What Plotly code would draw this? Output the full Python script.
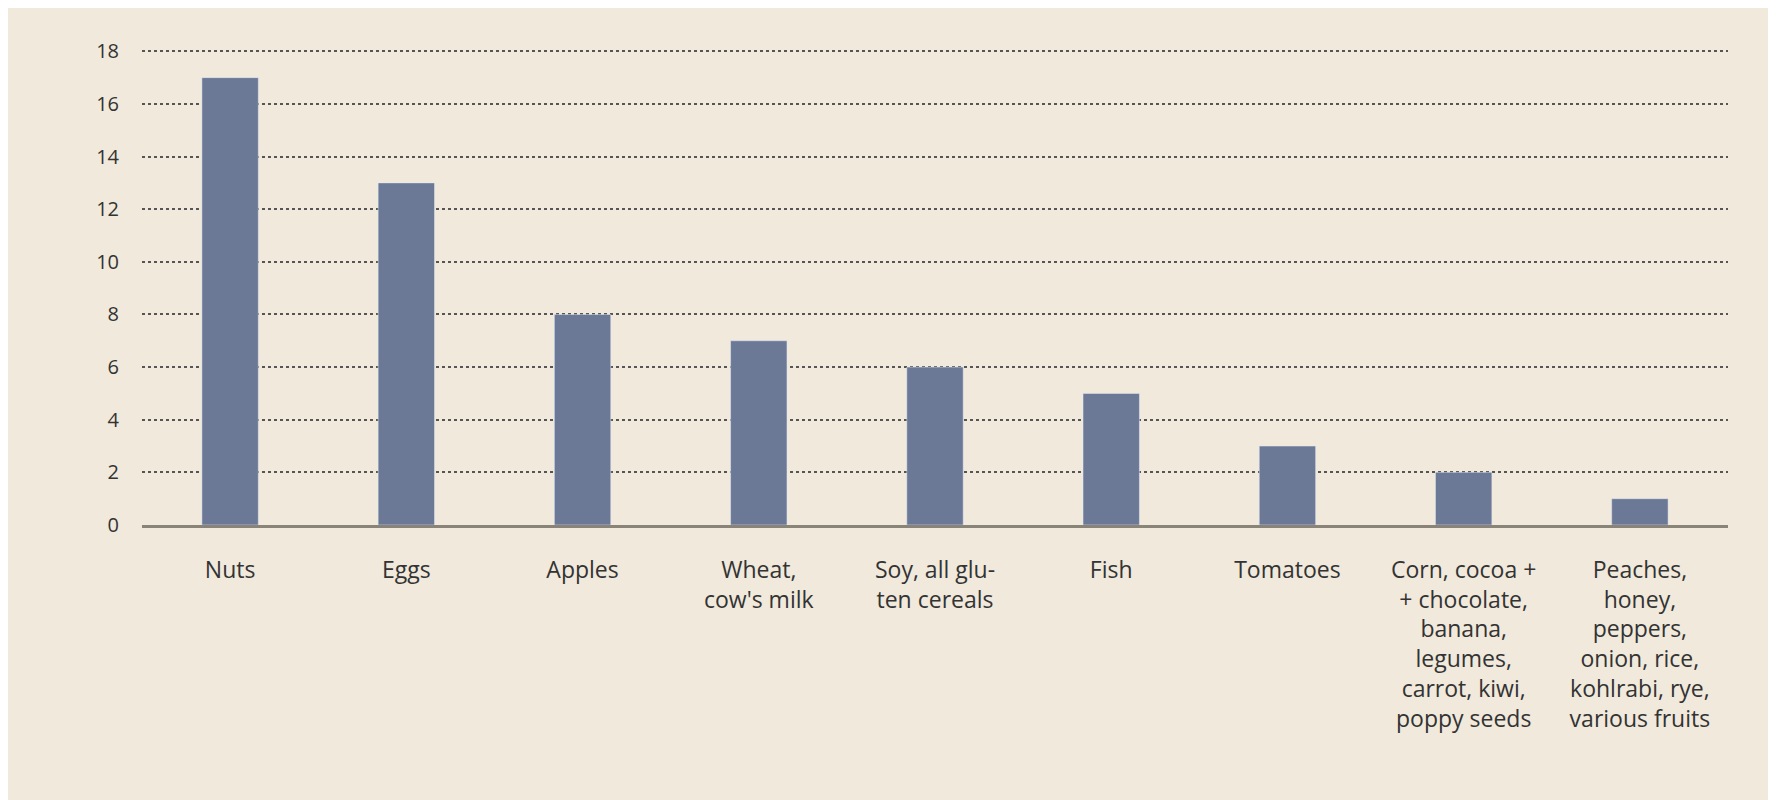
import plotly.graph_objects as go

categories = ["Nuts", "Eggs", "Apples", "Wheat,<br>cow's milk", "Soy, all glu-<br>ten cereals",
              "Fish", "Tomatoes",
              "Corn, cocoa +<br>+ chocolate,<br>banana,<br>legumes,<br>carrot, kiwi,<br>poppy seeds",
              "Peaches,<br>honey,<br>peppers,<br>onion, rice,<br>kohlrabi, rye,<br>various fruits"]
values = [17, 13, 8, 7, 6, 5, 3, 2, 1]
yticks = [0, 2, 4, 6, 8, 10, 12, 14, 16, 18]

fig = go.Figure(go.Bar(x=categories, y=values, marker_color="#6b7896", width=0.32))
fig.update_layout(
    width=1776, height=800, paper_bgcolor="#f0e9dc", plot_bgcolor="#f0e9dc",
    margin=dict(l=134, r=56, t=42, b=283), showlegend=False,
    font=dict(family="Open Sans", color="#333333", size=22),
)
fig.update_yaxes(range=[0, 18.05], tickvals=yticks, showgrid=True, gridcolor="#555555",
                 griddash="dot", gridwidth=1.5, zeroline=False, ticks="", ticklabelstandoff=22,
                 tickfont=dict(size=20))
fig.update_xaxes(showline=True, linecolor="#8a8378", linewidth=3, ticks="",
                 tickfont=dict(size=23), tickangle=0, ticklabelstandoff=22)
fig.write_html("out.html")
